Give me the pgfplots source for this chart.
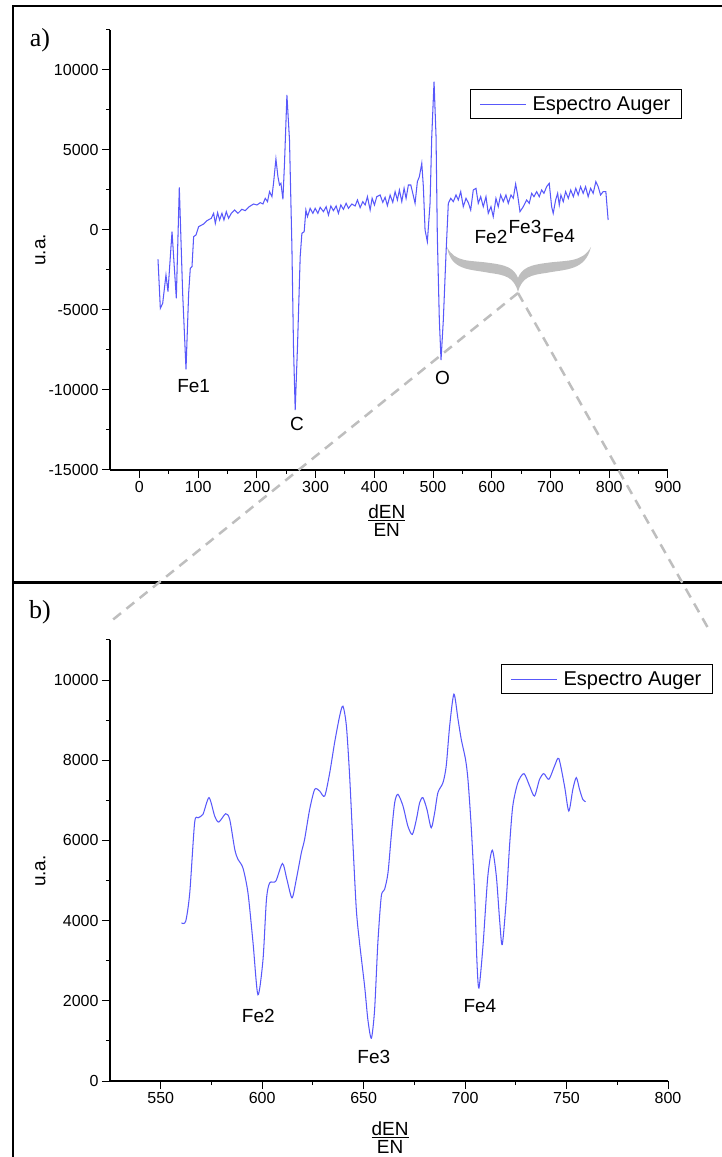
\documentclass[border=0pt]{standalone}
\usepackage{fontspec}
\setmainfont{Liberation Sans}
\newfontfamily\seriffont{Liberation Serif}
\usepackage{pgfplots}
\usepackage{pgfplotstable}
\pgfplotsset{compat=1.18}

\definecolor{spec}{RGB}{88,88,250}
\definecolor{lgray}{RGB}{190,190,190}

\pgfplotstableread{
x y
31.7 -1833
35.7 -4896
39.7 -4583
45.3 -2812
48.7 -3854
55.6 -104
62.9 -4271
68.0 2667
73.7 -3958
79.4 -8708
83.9 -3958
86.7 -2396
89.6 -2292
92.4 -417
96.4 -312
100.9 208
109.4 375
115.1 583
122.4 729
126.4 1042
129.3 417
133.2 1083
136.6 625
140.6 1042
144.0 625
148.0 1146
151.9 729
156.5 1042
162.1 1250
167.8 1042
174.6 1292
180.3 1208
187.1 1458
194.4 1625
200.2 1563
205.8 1708
210.4 1625
214.3 1979
218.2 1771
221.6 2396
225.7 2083
228.4 2917
232.5 4438
235.9 3333
238.6 2813
241.0 2917
244.4 1917
247.1 4167
251.2 8438
255.6 5625
259.7 -1042
262.4 -7292
265.3 -11250
269.2 -7292
273.8 -1667
276.7 -208
280.6 -104
283.5 1250
286.2 833
290.8 1354
295.4 1042
299.3 1354
303.9 1042
307.8 1417
313.4 1146
318.0 1458
321.9 937
326.0 1500
330.4 1208
335.0 1500
338.9 1042
343.0 1563
347.4 1292
352.0 1667
356.0 1354
361.7 1625
367.3 1500
371.3 1875
375.9 1396
380.4 1771
384.4 1563
388.3 2083
392.9 1250
396.3 1979
400.2 1563
404.2 2083
409.9 2188
414.4 1729
418.4 2042
422.3 1521
426.9 2188
431.4 1729
435.4 2396
439.3 1875
442.7 2500
446.8 1771
450.7 2604
454.1 1979
458.0 2813
462.1 2813
465.5 2292
469.4 1667
473.3 3021
476.7 3333
480.8 4167
483.5 2708
486.4 0
490.3 -729
494.9 1667
497.8 5833
501.7 9271
505.1 5833
507.3 -417
510.7 -5625
513.6 -8125
517.5 -5625
522.1 -1458
526.0 1667
530.1 1979
534.5 1771
539.1 2188
543.0 1875
547.1 2396
551.5 1458
556.1 1979
560.0 1708
564.1 1250
568.5 2500
573.1 2604
577.0 1667
581.1 2083
585.5 1458
590.1 2083
594.0 1042
598.6 1458
602.5 833
607.1 1979
611.0 1458
615.1 2188
619.6 1771
624.1 2188
628.1 1667
632.7 2188
636.6 1979
640.6 2875
644.0 2188
648.0 1146
653.6 1458
659.4 1875
663.8 1667
667.9 2292
671.8 2083
676.4 2396
680.8 2083
684.9 2500
688.8 2292
693.4 2708
697.8 2917
701.9 1458
704.6 1042
708.7 1875
712.1 2292
714.9 1563
717.7 2188
721.7 1771
725.7 2396
730.3 1979
734.4 2500
738.9 2083
743.0 2604
747.1 2188
751.2 2708
755.6 2292
759.7 2708
764.1 2083
768.2 2604
772.6 2292
777.2 3021
781.1 2708
785.2 2188
789.6 2396
794.2 2396
798.1 625
}\dataA

\pgfplotstableread{
x y
560.2 3942
562.3 3983
564.3 4690
566.7 6440
568.4 6565
570.8 6650
573.8 7067
576.6 6608
578.6 6458
582.0 6667
584.0 6525
586.5 5775
588.1 5525
590.5 5317
593.0 4692
595.5 3442
597.9 2150
600.4 3025
602.1 4525
603.7 4942
606.7 4983
610.0 5425
612.2 5025
614.7 4567
616.8 5025
619.3 5692
620.9 6025
623.4 6775
625.9 7275
628.3 7233
630.8 7108
633.3 7692
635.7 8442
638.2 9108
639.8 9350
641.5 8858
643.1 7608
644.7 5942
646.4 4275
648.0 3442
650.5 2358
652.1 1525
653.8 1067
655.4 1775
657.0 3442
658.7 4608
660.3 4775
662.0 5192
663.6 6108
665.3 6942
666.9 7150
669.4 6858
671.8 6358
674.0 6150
676.0 6525
677.6 6942
679.2 7067
681.2 6775
683.3 6317
685.0 6692
686.6 7192
689.1 7442
690.7 7858
692.4 8858
694.5 9650
696.5 9025
698.1 8525
700.2 8025
701.4 7525
703.0 6358
704.7 4692
705.8 3025
706.8 2317
708.8 3358
711.2 5108
713.4 5758
715.4 5108
717.0 4025
718.3 3400
720.3 4525
721.9 5858
723.5 6858
726.0 7442
729.0 7667
731.8 7358
734.2 7108
736.7 7525
738.8 7667
741.3 7525
744.1 7858
746.2 8042
749.0 7358
751.1 6733
753.1 7275
754.8 7567
756.4 7275
758.0 7025
759.4 6967
}\dataB

\tikzset{fenode/.style={font=\fontsize{19}{21}\selectfont, inner sep=0pt}}

\pgfplotsset{
  myax/.style={
    scale only axis,
    axis lines=left,
    axis line style={-, line width=1.2pt},
    tick align=outside,
    major tick length=8pt,
    minor tick length=4pt,
    every tick/.style={black, line width=1pt},
    tick label style={font=\fontsize{16}{18}\selectfont},
    scaled ticks=false,
    /pgf/number format/assume math mode=true,
    /pgf/number format/1000 sep={},
    clip=false,
    legend cell align=left,
    legend image code/.code={\draw[##1] (0pt,0pt) -- (46pt,0pt);},
    legend style={anchor=north east, draw=black, line width=1.1pt,
      font=\fontsize{20}{22}\selectfont, inner xsep=9pt, inner ysep=5pt,
      /tikz/every odd column/.append style={column sep=4pt}},
  },
}

\begin{document}
\begin{tikzpicture}[x=1pt,y=1pt]
\useasboundingbox (0,0) rectangle (722,1157);

% ---------- panel a ----------
\begin{axis}[myax,
  at={(110pt,687pt)}, anchor=south west, width=558pt, height=440pt,
  xmin=-50, xmax=900, ymin=-15000, ymax=12500,
  xtick={0,100,...,900}, minor xtick={50,150,...,850},
  ytick={-15000,-10000,...,10000}, minor ytick={-12500,-7500,...,12500},
  xlabel={\begin{tabular}{@{}c@{}}\underline{dEN}\\[-3pt]EN\end{tabular}},
  ylabel={u.a.},
  every axis x label/.style={at={(axis description cs:0.496,-0.1205)}, anchor=center, font=\fontsize{19}{21}\selectfont},
  every axis y label/.style={at={(axis description cs:-0.125,0.5)}, rotate=90, anchor=center, font=\fontsize{19}{21}\selectfont},
  legend style={at={(axis description cs:1.025,0.866)}},
]
\addplot[spec, line width=1.05pt] table[x=x,y=y] {\dataA};
\addlegendentry{Espectro Auger}
\node[fenode] at (axis cs:92.4,-9750) {Fe1};
\node[fenode] at (axis cs:268.2,-12094) {C};
\node[fenode] at (axis cs:516.2,-9219) {O};
\node[fenode] at (axis cs:598.6,-406) {Fe2};
\node[fenode] at (axis cs:656.5,219) {Fe3};
\node[fenode] at (axis cs:713.5,-406) {Fe4};
\end{axis}

% ---------- panel b ----------
\begin{axis}[myax,
  at={(110pt,76pt)}, anchor=south west, width=558pt, height=441pt,
  xmin=525, xmax=800, ymin=0, ymax=11000,
  xtick={550,600,...,800}, minor xtick={575,625,...,775},
  ytick={0,2000,...,10000}, minor ytick={1000,3000,...,11000},
  xlabel={\begin{tabular}{@{}c@{}}\underline{dEN}\\[-3pt]EN\end{tabular}},
  ylabel={u.a.},
  every axis x label/.style={at={(axis description cs:0.502,-0.134)}, anchor=center, font=\fontsize{19}{21}\selectfont},
  every axis y label/.style={at={(axis description cs:-0.125,0.476)}, rotate=90, anchor=center, font=\fontsize{19}{21}\selectfont},
  legend style={at={(axis description cs:1.0806,0.9456)}},
]
\addplot[spec, line width=1.05pt, smooth, tension=0.45] table[x=x,y=y] {\dataB};
\addlegendentry{Espectro Auger}
\node[fenode] at (axis cs:598.1,1625) {Fe2};
\node[fenode] at (axis cs:655.0,588) {Fe3};
\node[fenode] at (axis cs:707.3,1858) {Fe4};
\end{axis}

% ---------- frame ----------
\draw[line width=2.6pt] (13,0) -- (13,1151) -- (722,1151);
\draw[line width=2.6pt] (13,574.5) -- (722,574.5);

% ---------- panel letters ----------
\node[font=\seriffont\fontsize{26}{28}\selectfont, inner sep=0pt] at (40,1117) {a)};
\node[font=\seriffont\fontsize{26}{28}\selectfont, inner sep=0pt] at (40,545) {b)};

% ---------- brace ----------
\fill[lgray] (447,910) .. controls (451,886) and (470,888) .. (490,884)
  .. controls (505,882) and (514,880) .. (518,865)
  .. controls (522,880) and (531,882) .. (546,884)
  .. controls (566,888) and (585,886) .. (591,910)
  .. controls (582,894) and (566,897) .. (546,894)
  .. controls (530,892) and (522,889) .. (518,879)
  .. controls (514,889) and (506,892) .. (490,894)
  .. controls (470,897) and (455,894) .. (447,910) -- cycle;

% ---------- zoom lines ----------
\draw[lgray, line width=2.5pt, dash pattern=on 10pt off 7pt] (518,864) -- (110,535);
\draw[lgray, line width=2.5pt, dash pattern=on 10pt off 7pt] (518,864) -- (708,529);
\end{tikzpicture}
\end{document}
